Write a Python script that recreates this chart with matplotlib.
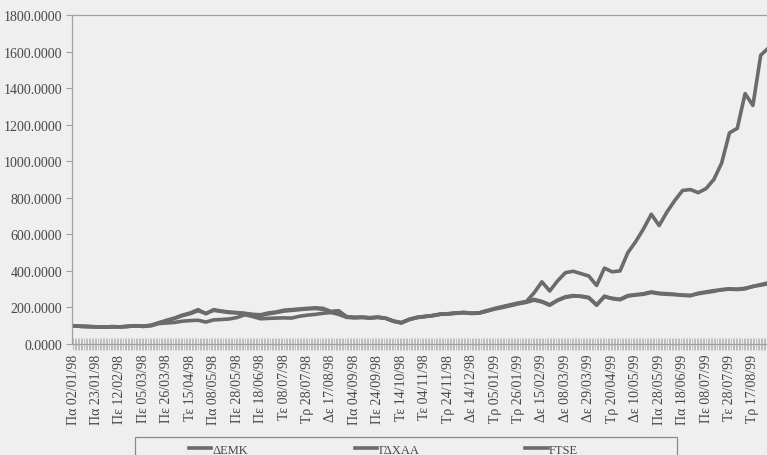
import numpy as np
import matplotlib
matplotlib.use("Agg")
import matplotlib.pyplot as plt
from matplotlib.patches import Rectangle

plt.rcParams["font.family"] = ["Liberation Serif", "DejaVu Serif"]

# tick labels, one every 15 trading days (every 3rd sample below)
tick_labels = [
    "Πα 02/01/98", "Πα 23/01/98", "Πε 12/02/98", "Πε 05/03/98", "Πε 26/03/98",
    "Τε 15/04/98", "Πα 08/05/98", "Πε 28/05/98", "Πε 18/06/98", "Τε 08/07/98",
    "Τρ 28/07/98", "Δε 17/08/98", "Πα 04/09/98", "Πε 24/09/98", "Τε 14/10/98",
    "Τε 04/11/98", "Τρ 24/11/98", "Δε 14/12/98", "Τρ 05/01/99", "Τρ 26/01/99",
    "Δε 15/02/99", "Δε 08/03/99", "Δε 29/03/99", "Τρ 20/04/99", "Δε 10/05/99",
    "Πα 28/05/99", "Πα 18/06/99", "Πε 08/07/99", "Τε 28/07/99", "Τρ 17/08/99",
]

# index values, sampled every 5 trading days
demk = [
    100, 97, 95, 94, 93, 95, 94, 96, 100, 97,
    102, 115, 130, 142, 158, 170, 188, 165, 188, 180,
    175, 172, 168, 162, 160, 170, 175, 185, 188, 192,
    195, 198, 195, 178, 182, 148, 145, 146, 144, 147,
    142, 125, 116, 135, 145, 150, 156, 164, 165, 170,
    172, 168, 170, 182, 195, 205, 215, 225, 232, 280,
    340, 290, 345, 390, 398, 385, 372, 320, 415, 395,
    400, 500, 560, 630, 710, 648, 722, 785, 840, 845,
    828, 850, 900, 990, 1155, 1180, 1370, 1305, 1580, 1620,
]
gdxaa = [
    100, 96, 95, 94, 92, 95, 93, 96, 99, 96,
    100, 112, 115, 118, 125, 128, 130, 120, 132, 134,
    137, 145, 160, 150, 138, 140, 142, 143, 142, 152,
    158, 162, 168, 172, 162, 146, 143, 145, 142, 146,
    140, 124, 115, 134, 144, 150, 155, 162, 164, 168,
    171, 167, 169, 180, 192, 200, 210, 220, 228, 240,
    230, 212, 238, 255, 262, 262, 255, 212, 262, 248,
    242, 262, 268, 272, 282, 275, 272, 270, 268, 266,
    275, 282, 288, 298, 300, 298, 302, 316, 322, 330,
]
ftse = [
    100, 97, 96, 94, 93, 94, 94, 97, 100, 98,
    103, 117, 128, 140, 155, 166, 182, 168, 184, 178,
    172, 170, 166, 160, 156, 165, 172, 180, 184, 188,
    192, 194, 190, 176, 178, 150, 146, 147, 143, 146,
    141, 126, 117, 133, 146, 151, 155, 163, 166, 169,
    173, 169, 171, 183, 193, 203, 212, 222, 230, 244,
    233, 215, 240, 258, 265, 260, 252, 215, 258, 250,
    245, 265, 270, 275, 285, 278, 275, 272, 266, 264,
    278, 285, 292, 296, 302, 300, 305, 314, 325, 335,
]

series = [("ΔΕΜΚ", demk), ("ΓΔΧΑΑ", gdxaa), ("FTSE", ftse)]

bg = "#efefef"
line_col = "#6b6b6b"
axis_col = "#a0a0a0"
text_col = "#474747"

fig = plt.figure(figsize=(7.67, 4.56), dpi=100, facecolor=bg)
ax = fig.add_axes([72 / 767, 1 - 345 / 456, 1 - 72 / 767 + 0.002, (345 - 16) / 456])
ax.set_facecolor(bg)

handles = []
for name, vals in series:
    (ln,) = ax.plot(np.arange(len(vals)), vals, color=line_col, lw=2.6,
                    solid_joinstyle="round", label=name)
    handles.append(ln)

ax.set_xlim(-0.13, len(demk) - 1)
ax.set_ylim(0, 1800)
ax.set_yticks(np.arange(0, 1801, 200))
ax.set_yticklabels([f"{v:.4f}" for v in np.arange(0, 1801, 200)])

ax.set_xticks(np.arange(0, 3 * len(tick_labels), 3))
ax.set_xticklabels(tick_labels, rotation=90)
# every trading day gets a tick, as in the original category axis
ax.set_xticks(np.arange(0, len(demk) - 0.9, 0.2), minor=True)

ax.tick_params(axis="y", direction="out", length=4, width=0.8, color=axis_col,
               labelsize=10, labelcolor=text_col, pad=3)
ax.tick_params(axis="x", which="both", direction="inout", length=8, width=0.6,
               color="#b4b4b4", labelsize=10, labelcolor=text_col, pad=3)

for side in ["left", "top", "bottom"]:
    ax.spines[side].set_color(axis_col)
    ax.spines[side].set_linewidth(0.9)
ax.spines["right"].set_visible(False)

# legend box at the bottom, partly cut off by the page edge
fig.add_artist(Rectangle((135 / 767, -0.05), (677 - 135) / 767, 0.05 + (456 - 438) / 456,
                         transform=fig.transFigure, facecolor="none",
                         edgecolor="#8a8a8a", lw=0.9))
fig.legend(handles=handles, loc="upper left", ncol=3,
           bbox_to_anchor=(180 / 767, 1 - 436 / 456), frameon=False,
           fontsize=9, handlelength=1.8, handletextpad=0.1, columnspacing=8.5,
           labelcolor=text_col, borderpad=0.2)

fig.savefig("out.png", dpi=100, facecolor=bg)
